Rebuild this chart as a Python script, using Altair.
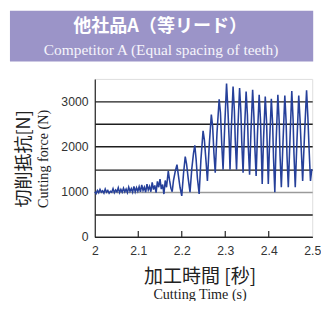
import altair as alt
import pandas as pd

# ---- data ----
time_s = [
    2.000, 2.003, 2.006, 2.009, 2.012, 2.015, 2.018, 2.021, 2.024, 2.027,
    2.030, 2.033, 2.036, 2.039, 2.042, 2.045, 2.048, 2.051, 2.054, 2.057,
    2.060, 2.063, 2.066, 2.069, 2.072, 2.075, 2.078, 2.081, 2.084, 2.087,
    2.090, 2.093, 2.096, 2.099,
    2.102, 2.105, 2.108, 2.111, 2.114, 2.117, 2.120, 2.123, 2.126, 2.129,
    2.132, 2.135, 2.138, 2.141, 2.144, 2.147, 2.150, 2.153, 2.156, 2.159,
    2.162, 2.165,
    2.169, 2.172, 2.175, 2.178, 2.181, 2.185, 2.189, 2.192, 2.196, 2.200,
    2.204, 2.208, 2.211, 2.215, 2.219, 2.223, 2.227, 2.230, 2.233, 2.236,
    2.240, 2.244, 2.249, 2.252, 2.256, 2.259, 2.263, 2.268, 2.271, 2.274,
    2.277, 2.281, 2.286, 2.289, 2.292, 2.295, 2.299, 2.303, 2.306, 2.309,
    2.311,
    2.314, 2.318, 2.321, 2.323, 2.326,
    2.329, 2.333, 2.336, 2.338, 2.341,
    2.344, 2.348, 2.351, 2.353, 2.356,
    2.359, 2.363, 2.366, 2.368, 2.371,
    2.374, 2.378, 2.381, 2.383, 2.385,
    2.388, 2.392, 2.395, 2.397, 2.399,
    2.402, 2.406, 2.409, 2.411, 2.414,
    2.417, 2.421, 2.424, 2.426, 2.429,
    2.433, 2.437, 2.440, 2.442, 2.445,
    2.449, 2.453, 2.456, 2.458, 2.461,
    2.465, 2.469, 2.472, 2.475, 2.478,
    2.482, 2.487, 2.490, 2.493, 2.496, 2.499,
]
force_n = [
    1000, 960, 1030, 980, 1050, 990, 1020, 970, 1060, 990,
    1030, 970, 1010, 990, 1070, 980, 1040, 1000, 1090, 980,
    1050, 990, 1080, 1000, 1060, 980, 1100, 1010, 1070, 990,
    1120, 1000, 1090, 1010,
    1110, 1000, 1150, 1030, 1100, 990, 1170, 1040, 1120, 1000,
    1210, 1050, 1140, 980, 1230, 1100, 1280, 1060, 1160, 950,
    1250, 1100,
    1460, 1250, 1080, 1000, 1250, 1450, 1600, 1380, 1100, 910,
    1400, 1780, 1620, 1280, 990, 1500, 1850, 2030, 1720, 1300,
    950, 1700, 2350, 2150, 1650, 1240, 2000, 2710, 2450, 1850,
    1420, 2300, 3050, 2750, 2050, 1490, 2500, 3400, 2850, 2150,
    1490,
    2400, 3330, 2800, 2150, 1490,
    2400, 3300, 2750, 2100, 1420,
    2300, 3220, 2700, 2000, 1380,
    2300, 3260, 2650, 2000, 1350,
    2250, 3150, 2600, 1900, 1170,
    2150, 3110, 2550, 1850, 1170,
    2100, 3060, 2500, 1750, 990,
    2100, 3150, 2550, 1800, 1100,
    2150, 3130, 2550, 1800, 1100,
    2200, 3230, 2600, 1850, 1100,
    2150, 3130, 2600, 1900, 1240,
    2200, 3250, 2650, 1900, 1240, 1500,
]
x_ticks = [2.0, 2.1, 2.2, 2.3, 2.4, 2.5]
y_ticks = [0, 500, 1000, 1500, 2000, 2500, 3000]

title_jp = "他社品A（等リード）"
title_en = "Competitor A (Equal spacing of teeth)"
ytitle_jp = "切削抵抗[N]"
ytitle_en = "Cutting force (N)"
xtitle_jp = "加工時間 [秒]"
xtitle_en = "Cutting Time (s)"

W, H = 223, 162
df = pd.DataFrame({"t": time_s, "f": force_n})
one = pd.DataFrame({"k": [0]})
inner_ticks = pd.DataFrame({"t": x_ticks[1:-1]})

JP = "Noto Sans CJK JP"
SERIF = "Liberation Serif"

xs = alt.Scale(domain=[2.0, 2.5], nice=False, zero=False)
ys = alt.Scale(domain=[0, 3500], nice=False)

line = alt.Chart(df).mark_line(color="#26409a", strokeWidth=1.6).encode(
    x=alt.X("t:Q", scale=xs, axis=alt.Axis(
        values=x_ticks, format=".1~f", grid=False, ticks=False, title=None,
        labelFlush=False, labelOverlap=False, labelPadding=8,
        labelFont="Liberation Sans", labelFontSize=12.5, labelColor="#333",
        domainColor="#222", domainWidth=1.2)),
    y=alt.Y("f:Q", scale=ys, axis=alt.Axis(
        values=y_ticks, title=None, ticks=False, grid=True, format="d",
        labelExpr="datum.value % 1000 === 0 ? datum.label : ''",
        gridColor={"condition": {"test": "datum.value === 1000", "value": "#9a9a9a"},
                   "value": "#1e1e1e"},
        gridWidth=1.4, labelPadding=7,
        labelFont="Liberation Sans", labelFontSize=12.5, labelColor="#333",
        domainColor="#222", domainWidth=1.2)),
)

tick_rules = alt.Chart(inner_ticks).mark_rule(color="#222", strokeWidth=1.2).encode(
    x=alt.X("t:Q", scale=xs), y=alt.value(H), y2=alt.value(H - 6))

header = alt.Chart(one).mark_rect(color="#9b94c8").encode(
    x=alt.value(-87), x2=alt.value(224), y=alt.value(-70), y2=alt.value(-18))

t1 = alt.Chart(one).mark_text(text=title_jp, font=JP, fontSize=18.5, fontWeight="bold",
                              color="white", baseline="middle", align="center").encode(
    x=alt.value(67), y=alt.value(-54))
t2 = alt.Chart(one).mark_text(text=title_en, font=SERIF, fontSize=15.8,
                              color="#f6f4fb", baseline="middle", align="center").encode(
    x=alt.value(68), y=alt.value(-30))
yt1 = alt.Chart(one).mark_text(text=ytitle_jp, font=JP, fontSize=18.5, angle=270,
                               color="#222", baseline="middle", align="center").encode(
    x=alt.value(-72), y=alt.value(82))
yt2 = alt.Chart(one).mark_text(text=ytitle_en, font=SERIF, fontSize=14.5, angle=270,
                               color="#222", baseline="middle", align="center").encode(
    x=alt.value(-52), y=alt.value(82))
xt1 = alt.Chart(one).mark_text(text=xtitle_jp, font=JP, fontSize=19.5,
                               color="#222", baseline="middle", align="center").encode(
    x=alt.value(108), y=alt.value(203))
xt2 = alt.Chart(one).mark_text(text=xtitle_en, font=SERIF, fontSize=14.5,
                               color="#222", baseline="middle", align="center").encode(
    x=alt.value(108), y=alt.value(222))

chart = alt.layer(header, t1, t2, yt1, yt2, xt1, xt2, line, tick_rules).properties(
    width=W, height=H,
    autosize=alt.AutoSizeParams(type="none"),
    padding={"left": 89, "top": 69, "right": 9, "bottom": 62},
).configure_view(stroke="#8a8a8a", strokeWidth=1).configure(background="white")

chart.save("out.html", embed_options={"renderer": "svg", "actions": False})
